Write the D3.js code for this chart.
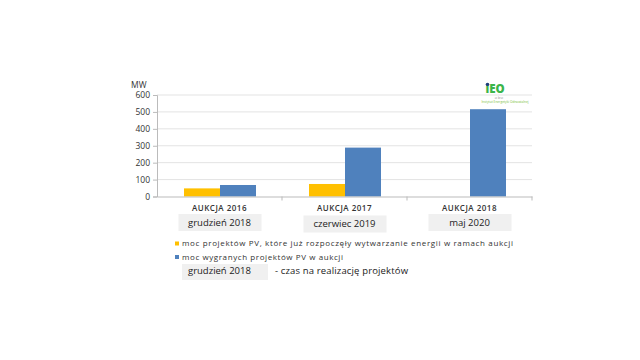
<!DOCTYPE html>
<html><head><meta charset="utf-8">
<script src="https://cdn.jsdelivr.net/npm/d3@7/dist/d3.min.js"></script>
<style>body{margin:0;background:#fff}svg{display:block}text{font-family:"Open Sans",sans-serif}</style>
</head><body><svg id="c" width="640" height="360"></svg>
<script>
const categories = ["AUKCJA 2016", "AUKCJA 2017", "AUKCJA 2018"];
const deadlines = ["grudzień 2018", "czerwiec 2019", "maj 2020"];
const seriesNames = ["moc projektów PV, które już rozpoczęły wytwarzanie energii w ramach aukcji", "moc wygranych projektów PV w aukcji"];
const producing = [48, 74, 0];
const won = [68, 289, 516];
const yTicks = [0, 100, 200, 300, 400, 500, 600];
const colors = ["#FFC000", "#4F81BD"];

const svg = d3.select("#c");
const x = d3.scaleBand().domain(categories).range([157, 532]).paddingInner(0).paddingOuter(0);
const sub = d3.scaleBand().domain([0,1]).range([27, 99]);
const y = d3.scaleLinear().domain([0, 600]).range([196.5, 95]);

// gridlines
svg.append("g").selectAll("line").data(yTicks.slice(1)).join("line")
  .attr("x1", 157).attr("x2", 532).attr("y1", d=>y(d)).attr("y2", d=>y(d))
  .attr("stroke", "#e3e3e3").attr("stroke-width", 1);

// y axis
const ya = svg.append("g").attr("transform", "translate(157,0)")
  .call(d3.axisLeft(y).tickValues(yTicks).tickSize(4).tickPadding(3));
ya.select(".domain").attr("stroke", "#bbb");
ya.selectAll(".tick line").attr("stroke", "#bbb");
ya.selectAll(".tick text").attr("font-size", 8.5).attr("fill", "#333");
svg.append("text").attr("x", 131).attr("y", 88).attr("font-size", 8.5).attr("fill", "#333").text("MW");

// bars
const data = categories.map((c,i)=>({c, v:[producing[i], won[i]]}));
const g = svg.append("g").selectAll("g").data(data).join("g");
g.selectAll("rect").data(d=>d.v.map((v,k)=>({c:d.c,v,k}))).join("rect")
  .attr("x", d=>x(d.c)+sub(d.k)).attr("width", sub.bandwidth())
  .attr("y", d=>y(d.v)).attr("height", d=>y(0)-y(d.v)).attr("fill", d=>colors[d.k]);

// x axis
const xa = svg.append("g").attr("transform", `translate(0,${y(0)})`)
  .call(d3.axisBottom(x).tickSize(0).tickFormat(""));
xa.select(".domain").attr("stroke", "#bbb");
svg.append("g").selectAll("line").data(categories.slice(1).concat(["end"])).join("line")
  .attr("x1", (d,i)=> i<2 ? x(d) : 532).attr("x2", (d,i)=> i<2 ? x(d) : 532)
  .attr("y1", y(0)).attr("y2", y(0)+4).attr("stroke", "#bbb");

// category labels + deadline boxes
const boxY = [214, 215.5, 214];
categories.forEach((c,i)=>{
  const cx = x(c) + x.bandwidth()/2;
  svg.append("text").attr("x", cx).attr("y", 210.5).attr("text-anchor","middle")
    .attr("font-size", 8).attr("font-weight", 600).attr("letter-spacing", 0.5).attr("fill", "#333").text(c);
  svg.append("rect").attr("x", cx-41).attr("y", boxY[i]).attr("width", 83).attr("height", 17).attr("fill", "#f0f0f0");
  svg.append("text").attr("x", cx).attr("y", boxY[i]+11.5).attr("text-anchor","middle")
    .attr("font-size", 9.5).attr("fill", "#222").text(deadlines[i]);
});

// legend
const legendW = [331, 161];
seriesNames.forEach((n,i)=>{
  const ly = 241.5 + i*13.5;
  svg.append("rect").attr("x", 175).attr("y", ly).attr("width", 4).attr("height", 4).attr("fill", colors[i]);
  svg.append("text").attr("x", 182).attr("y", ly+4.8).attr("font-size", 8)
    .attr("textLength", legendW[i]).attr("lengthAdjust", "spacing").attr("fill", "#333").text(n);
});
svg.append("rect").attr("x", 182).attr("y", 264).attr("width", 86).attr("height", 16).attr("fill", "#f0f0f0");
svg.append("text").attr("x", 188).attr("y", 274).attr("font-size", 9.5).attr("fill", "#222").text(deadlines[0]);
svg.append("text").attr("x", 275).attr("y", 274).attr("font-size", 9.5).attr("textLength", 133).attr("lengthAdjust","spacing")
  .attr("fill", "#222").text("- czas na realizację projektów");

// logo
svg.append("circle").attr("cx", 487.5).attr("cy", 84.5).attr("r", 1.8).attr("fill", "#1f3f7a");
svg.append("text").attr("x", 485.5).attr("y", 93).attr("font-size", 11.5).attr("font-weight", 800).attr("fill", "#3bb54a").text("ıEO");
svg.append("text").attr("x", 499).attr("y", 99).attr("text-anchor","middle").attr("font-size", 2.6).attr("fill", "#888").text("ec   brec");
svg.append("text").attr("x", 505).attr("y", 103).attr("text-anchor","middle").attr("font-size", 3.2).attr("fill", "#7bc142").text("Instytut Energetyki Odnawialnej");
</script></body></html>
